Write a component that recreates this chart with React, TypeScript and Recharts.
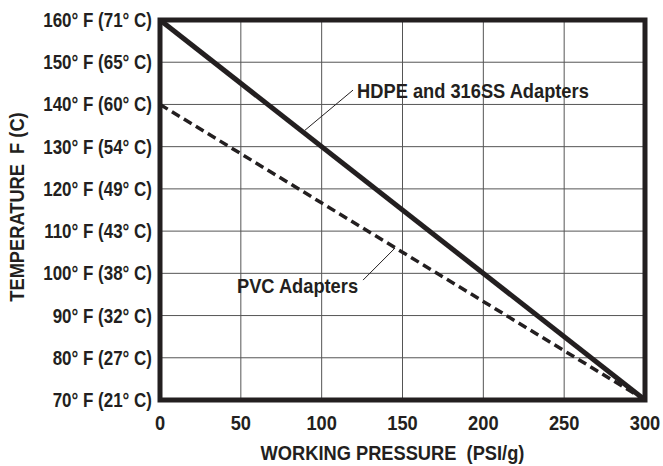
import { LineChart, Line, XAxis, YAxis, CartesianGrid, ReferenceArea, ReferenceLine, ReferenceDot } from 'recharts';

const pressures = [0, 300];
const hdpeTemps = [160, 70];
const pvcTemps = [140, 70];

const xTicks = [0, 50, 100, 150, 200, 250, 300];
const yTicks = [70, 80, 90, 100, 110, 120, 130, 140, 150, 160];
const yTickLabels = [
  '70° F (21° C)',
  '80° F (27° C)',
  '90° F (32° C)',
  '100° F (38° C)',
  '110° F (43° C)',
  '120° F (49° C)',
  '130° F (54° C)',
  '140° F (60° C)',
  '150° F (65° C)',
  '160° F (71° C)',
];

const ink = '#231f20';
const font = "'Liberation Sans', Arial, sans-serif";

const data = pressures.map((p, i) => ({ pressure: p, hdpe: hdpeTemps[i], pvc: pvcTemps[i] }));

// condensed bold text, (x, y) is the baseline anchor point
function NarrowText({ x, y, anchor = 'start', size = 21, rotate = false, children }: any) {
  return (
    <text
      transform={`translate(${x},${y})${rotate ? ' rotate(-90)' : ''} scale(0.87,1)`}
      textAnchor={anchor}
      fontSize={size}
      fontWeight={700}
      fontFamily={font}
      fill={ink}
    >
      {children}
    </text>
  );
}

const YTick = (props: any) => (
  <NarrowText x={props.x} y={props.y + 7} anchor="end" size={19.5}>
    {yTickLabels[yTicks.indexOf(props.payload.value)]}
  </NarrowText>
);

const XTick = (props: any) => (
  <NarrowText x={props.x} y={props.y + 15} anchor="middle" size={21}>
    {props.payload.value}
  </NarrowText>
);

export default function App() {
  return (
    <div style={{ position: 'absolute', left: 0, top: 0, width: 663, height: 466, background: '#fff' }}>
      <LineChart width={663} height={466} data={data} margin={{ top: 20, right: 18, left: 0, bottom: 0 }}>
        <CartesianGrid stroke="#555" strokeWidth={1} verticalValues={xTicks} horizontalValues={yTicks} />
        <XAxis
          dataKey="pressure"
          type="number"
          domain={[0, 300]}
          ticks={xTicks}
          height={66}
          tickLine={false}
          axisLine={false}
          tickSize={0}
          tickMargin={15}
          tick={XTick}
          label={{
            content: ({ viewBox }: any) => (
              <NarrowText x={viewBox.x + viewBox.width / 2 - 10} y={460} anchor="middle" size={21}>
                {'WORKING PRESSURE\u00A0\u00A0(PSI/g)'}
              </NarrowText>
            ),
          }}
        />
        <YAxis
          type="number"
          domain={[70, 160]}
          ticks={yTicks}
          width={160}
          tickLine={false}
          axisLine={false}
          tickSize={0}
          tickMargin={8}
          tick={YTick}
          label={{
            content: ({ viewBox }: any) => (
              <NarrowText x={24} y={viewBox.y + viewBox.height / 2 - 3} anchor="middle" size={21} rotate>
                {'TEMPERATURE\u00A0\u00A0F (C)'}
              </NarrowText>
            ),
          }}
        />
        <ReferenceArea x1={0} x2={300} y1={70} y2={160} fill="none" stroke={ink} strokeWidth={5} ifOverflow="visible" />
        <Line
          dataKey="pvc"
          stroke={ink}
          strokeWidth={3.5}
          strokeDasharray="9 5"
          dot={false}
          isAnimationActive={false}
        />
        <Line dataKey="hdpe" stroke={ink} strokeWidth={5} dot={false} isAnimationActive={false} />
        <ReferenceLine
          segment={[
            { x: 89.7, y: 133.9 },
            { x: 119.4, y: 143.4 },
          ]}
          stroke={ink}
          strokeWidth={1}
        />
        <ReferenceLine
          segment={[
            { x: 125.6, y: 98.4 },
            { x: 145.4, y: 106 },
          ]}
          stroke={ink}
          strokeWidth={1}
        />
        <ReferenceDot
          x={121.9}
          y={141.5}
          r={0}
          label={{
            content: ({ viewBox }: any) => (
              <NarrowText x={viewBox.x} y={viewBox.y} size={21}>
                HDPE and 316SS Adapters
              </NarrowText>
            ),
          }}
        />
        <ReferenceDot
          x={122.5}
          y={95.3}
          r={0}
          label={{
            content: ({ viewBox }: any) => (
              <NarrowText x={viewBox.x} y={viewBox.y} anchor="end" size={21}>
                PVC Adapters
              </NarrowText>
            ),
          }}
        />
      </LineChart>
    </div>
  );
}
